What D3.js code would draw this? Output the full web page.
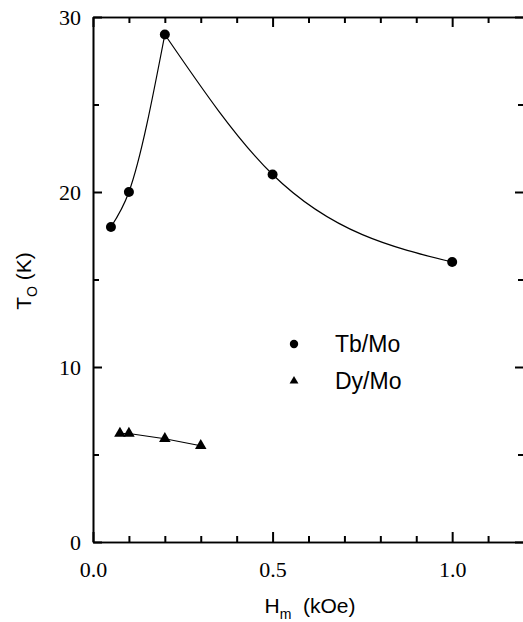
<!DOCTYPE html>
<html>
<head>
<meta charset="utf-8">
<script src="https://cdn.jsdelivr.net/npm/d3@7"></script>
<style>
  body { margin: 0; background: #fff; }
  svg { display: block; }
</style>
</head>
<body>
<div id="container"></div>
<script>
// DATA ####################################
const tbField = [0.05, 0.1, 0.2, 0.5, 1.0];
const tbTemp = [18, 20, 29, 21, 16];
const dyField = [0.075, 0.1, 0.2, 0.3];
const dyTemp = [6.2, 6.2, 5.9, 5.5];
const xMajor = [0, 0.5, 1.0];
const xMinor = [0.1, 0.2, 0.3, 0.4, 0.6, 0.7, 0.8, 0.9, 1.1];
const xLabels = ["0.0", "0.5", "1.0"];
const yMajor = [0, 10, 20, 30];
const yMinor = [5, 15, 25];
const seriesNames = ["Tb/Mo", "Dy/Mo"];

// CONSTANTS ###############################
const width = 523,
  height = 622,
  margin = { top: 17, left: 93, right: -1, bottom: 80 };

const tb = tbField.map((d, i) => ({ x: d, y: tbTemp[i] }));
const dy = dyField.map((d, i) => ({ x: d, y: dyTemp[i] }));

const xScale = d3.scaleLinear()
  .domain([0, 1.2])
  .range([margin.left, width - margin.right]);

const yScale = d3.scaleLinear()
  .domain([0, 30])
  .range([height - margin.bottom, margin.top]);

const svg = d3.select("#container")
  .append("svg")
  .attr("width", width)
  .attr("height", height);

const serif = "'Liberation Serif', 'Times New Roman', serif";
const sans = "'Liberation Sans', Arial, sans-serif";

// AXES ####################################
function styleAxis(g) {
  g.selectAll("path.domain").attr("stroke", "#000").attr("stroke-width", 1.6);
  g.selectAll(".tick line").attr("stroke", "#000").attr("stroke-width", 2);
  g.selectAll("text")
    .attr("fill", "#000")
    .style("font-family", serif)
    .style("font-size", "22px");
}

const y0 = yScale(0), y1 = yScale(30), x0 = xScale(0), x1 = xScale(1.2);

// bottom
svg.append("g")
  .attr("transform", `translate(0,${y0})`)
  .call(d3.axisBottom(xScale).tickValues(xMajor).tickSizeInner(-10).tickSizeOuter(0)
    .tickPadding(19).tickFormat((d, i) => xLabels[i]))
  .call(styleAxis);
svg.append("g")
  .attr("transform", `translate(0,${y0})`)
  .call(d3.axisBottom(xScale).tickValues(xMinor).tickSizeInner(-6).tickSizeOuter(0).tickFormat(""))
  .call(styleAxis);

// top
svg.append("g")
  .attr("transform", `translate(0,${y1})`)
  .call(d3.axisTop(xScale).tickValues(xMajor).tickSizeInner(-10).tickSizeOuter(0).tickFormat(""))
  .call(styleAxis);
svg.append("g")
  .attr("transform", `translate(0,${y1})`)
  .call(d3.axisTop(xScale).tickValues(xMinor).tickSizeInner(-6).tickSizeOuter(0).tickFormat(""))
  .call(styleAxis);

// left
svg.append("g")
  .attr("transform", `translate(${x0},0)`)
  .call(d3.axisLeft(yScale).tickValues(yMajor).tickSizeInner(-9).tickSizeOuter(0)
    .tickPadding(12).tickFormat(d3.format("d")))
  .call(styleAxis);
svg.append("g")
  .attr("transform", `translate(${x0},0)`)
  .call(d3.axisLeft(yScale).tickValues(yMinor).tickSizeInner(-6).tickSizeOuter(0).tickFormat(""))
  .call(styleAxis);

// right
svg.append("g")
  .attr("transform", `translate(${x1},0)`)
  .call(d3.axisRight(yScale).tickValues(yMajor).tickSizeInner(-9).tickSizeOuter(0).tickFormat(""))
  .call(styleAxis);
svg.append("g")
  .attr("transform", `translate(${x1},0)`)
  .call(d3.axisRight(yScale).tickValues(yMinor).tickSizeInner(-6).tickSizeOuter(0).tickFormat(""))
  .call(styleAxis);

// AXIS TITLES #############################
const xTitle = svg.append("text")
  .attr("x", 310)
  .attr("y", 613)
  .attr("text-anchor", "middle")
  .style("font-family", sans)
  .style("font-size", "21px");
xTitle.append("tspan").text("H");
xTitle.append("tspan").attr("dy", 6).style("font-size", "14px").text("m");
xTitle.append("tspan").attr("dy", -6).text("\u00a0\u00a0(kOe)");

const yTitle = svg.append("text")
  .attr("transform", "translate(31,281) rotate(-90)")
  .attr("text-anchor", "middle")
  .style("font-family", sans)
  .style("font-size", "21px");
yTitle.append("tspan").text("T");
yTitle.append("tspan").attr("dy", 6).style("font-size", "14px").text("O");
yTitle.append("tspan").attr("dy", -6).text("\u00a0(K)");

// LINES ###################################
const line = d3.line()
  .x(d => xScale(d.x))
  .y(d => yScale(d.y));

// rise and fall drawn separately so the peak stays sharp
[tb.slice(0, 3), tb.slice(2)].forEach(seg => {
  svg.append("path")
    .datum(seg)
    .attr("d", line.curve(d3.curveMonotoneX))
    .attr("fill", "none")
    .attr("stroke", "#000")
    .attr("stroke-width", 1.2);
});

svg.append("path")
  .datum(dy)
  .attr("d", line.curve(d3.curveLinear))
  .attr("fill", "none")
  .attr("stroke", "#000")
  .attr("stroke-width", 1.2);

// MARKERS #################################
svg.selectAll("circle.tb")
  .data(tb)
  .join("circle")
  .attr("class", "tb")
  .attr("cx", d => xScale(d.x))
  .attr("cy", d => yScale(d.y))
  .attr("r", 5)
  .attr("fill", "#000");

const tri = d3.symbol().type(d3.symbolTriangle);
svg.selectAll("path.dy")
  .data(dy)
  .join("path")
  .attr("class", "dy")
  .attr("d", tri.size(58)())
  .attr("transform", d => `translate(${xScale(d.x)},${yScale(d.y)})`)
  .attr("fill", "#000");

// LEGEND ##################################
const legend = svg.append("g").attr("transform", "translate(294,344)");
legend.append("circle").attr("r", 4.2).attr("fill", "#000");
legend.append("path")
  .attr("d", tri.size(34)())
  .attr("transform", "translate(0,37)")
  .attr("fill", "#000");
legend.selectAll("text")
  .data(seriesNames)
  .join("text")
  .attr("x", 41)
  .attr("y", (d, i) => i * 37 + 8)
  .style("font-family", sans)
  .style("font-size", "23px")
  .text(d => d);
</script>
</body>
</html>
